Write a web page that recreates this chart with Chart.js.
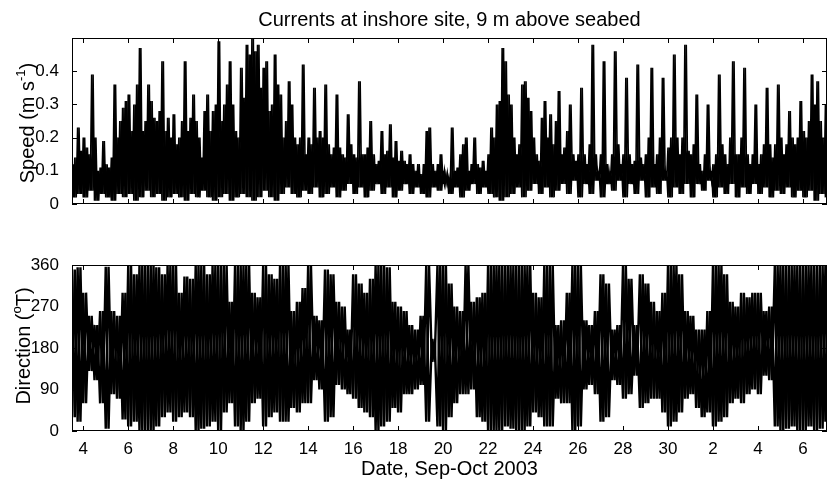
<!DOCTYPE html>
<html>
<head>
<meta charset="utf-8">
<script src="https://cdn.jsdelivr.net/npm/chart.js@4/dist/chart.umd.min.js"></script>
<style>
  body { margin: 0; background: #fff; }
  #topPanel { position: absolute; left: 0; top: 0; width: 829px; height: 225px; }
  #bottomPanel { position: absolute; left: 0; top: 220px; width: 829px; height: 265px; }
</style>
</head>
<body>
<div id="topPanel"><canvas id="speedChart"></canvas></div>
<div id="bottomPanel"><canvas id="dirChart"></canvas></div>
<script>
// days counted from 31 Aug 2003 (so 32 = 2 Oct)
const startDay = 3.5;
const peakStep = 0.125;
const bandStep = 0.25;

const dateTicks = [4, 6, 8, 10, 12, 14, 16, 18, 20, 22, 24, 26, 28, 30, 32, 34, 36];
const dateTickLabels = ["4", "6", "8", "10", "12", "14", "16", "18", "20", "22", "24", "26", "28", "30", "2", "4", "6"];
const speedTicks = [0, 0.1, 0.2, 0.3, 0.4];
const speedTickLabels = ["0", "0.1", "0.2", "0.3", "0.4"];
const dirTicks = [0, 90, 180, 270, 360];
const dirTickLabels = ["0", "90", "180", "270", "360"];

// speed, upper envelope every 3 h
const speedPeak = [
  0.12, 0.14, 0.23, 0.16,
  0.20, 0.17, 0.15, 0.39, 0.20, 0.10, 0.11, 0.19,
  0.12, 0.11, 0.14, 0.36, 0.20, 0.25, 0.29, 0.31,
  0.33, 0.22, 0.30, 0.36, 0.47, 0.22, 0.25, 0.36,
  0.31, 0.26, 0.25, 0.28, 0.43, 0.22, 0.26, 0.20,
  0.27, 0.18, 0.20, 0.25, 0.43, 0.22, 0.26, 0.33,
  0.25, 0.20, 0.14, 0.28, 0.33, 0.22, 0.28, 0.30,
  0.49, 0.25, 0.30, 0.36, 0.43, 0.30, 0.22, 0.20,
  0.41, 0.32, 0.48, 0.45, 0.50, 0.46, 0.48, 0.35,
  0.41, 0.43, 0.28, 0.30, 0.45, 0.36, 0.33, 0.20,
  0.25, 0.37, 0.30, 0.20, 0.18, 0.20, 0.42, 0.15,
  0.20, 0.18, 0.35, 0.20, 0.22, 0.20, 0.36, 0.18,
  0.15, 0.17, 0.33, 0.17, 0.15, 0.14, 0.27, 0.18,
  0.15, 0.14, 0.37, 0.15, 0.15, 0.17, 0.25, 0.15,
  0.12, 0.13, 0.22, 0.15, 0.16, 0.24, 0.14, 0.19,
  0.13, 0.16, 0.13, 0.12, 0.15, 0.12, 0.10, 0.12,
  0.09, 0.12, 0.22, 0.23, 0.12, 0.10, 0.12, 0.15,
  0.10, 0.09, 0.08, 0.23, 0.10, 0.11, 0.15, 0.18,
  0.20, 0.10, 0.12, 0.20, 0.12, 0.11, 0.13, 0.10,
  0.15, 0.23, 0.20, 0.30, 0.31, 0.47, 0.43, 0.33,
  0.30, 0.20, 0.15, 0.18, 0.36, 0.37, 0.32, 0.28,
  0.20, 0.15, 0.13, 0.26, 0.31, 0.20, 0.27, 0.18,
  0.25, 0.34, 0.15, 0.17, 0.22, 0.30, 0.15, 0.13,
  0.15, 0.35, 0.15, 0.12, 0.18, 0.48, 0.15, 0.10,
  0.15, 0.43, 0.12, 0.10, 0.15, 0.46, 0.18, 0.12,
  0.15, 0.38, 0.15, 0.12, 0.13, 0.42, 0.14, 0.12,
  0.15, 0.20, 0.41, 0.12, 0.15, 0.20, 0.38, 0.10,
  0.17, 0.20, 0.45, 0.20, 0.15, 0.20, 0.48, 0.16,
  0.15, 0.18, 0.33, 0.12, 0.10, 0.15, 0.30, 0.10,
  0.12, 0.15, 0.39, 0.18, 0.15, 0.12, 0.20, 0.43,
  0.15, 0.15, 0.20, 0.41, 0.15, 0.12, 0.15, 0.30,
  0.12, 0.15, 0.18, 0.35, 0.18, 0.14, 0.18, 0.36,
  0.20, 0.15, 0.18, 0.28, 0.20, 0.18, 0.20, 0.31,
  0.22, 0.20, 0.25, 0.39, 0.30, 0.37, 0.25, 0.20,
  0.30, 0.39
];

// speed, lower envelope every 6 h
const speedFloor = [
  0.02, 0.03,
  0.02, 0.04, 0.01, 0.03,
  0.02, 0.01, 0.03, 0.02,
  0.03, 0.01, 0.02, 0.04,
  0.02, 0.03, 0.01, 0.02,
  0.03, 0.02, 0.01, 0.03,
  0.02, 0.04, 0.02, 0.01,
  0.02, 0.03, 0.01, 0.02,
  0.03, 0.02, 0.01, 0.02,
  0.04, 0.02, 0.01, 0.03,
  0.05, 0.03, 0.02, 0.04,
  0.03, 0.05, 0.02, 0.03,
  0.05, 0.02, 0.04, 0.06,
  0.03, 0.05, 0.02, 0.04,
  0.06, 0.03, 0.05, 0.02,
  0.04, 0.06, 0.03, 0.05,
  0.03, 0.02, 0.05, 0.04,
  0.06, 0.03, 0.05, 0.02,
  0.04, 0.06, 0.03, 0.05,
  0.03, 0.02, 0.01, 0.02,
  0.03, 0.05, 0.02, 0.04,
  0.06, 0.03, 0.05, 0.02,
  0.04, 0.06, 0.03, 0.07,
  0.02, 0.06, 0.03, 0.07,
  0.02, 0.06, 0.04, 0.07,
  0.02, 0.06, 0.03, 0.07,
  0.02, 0.05, 0.03, 0.07,
  0.02, 0.05, 0.03, 0.06,
  0.02, 0.06, 0.04, 0.07,
  0.02, 0.05, 0.03, 0.06,
  0.02, 0.05, 0.03, 0.06,
  0.03, 0.05, 0.02, 0.04,
  0.03, 0.05, 0.02, 0.04,
  0.02, 0.04, 0.01, 0.03,
  0.02
];

// direction, upper and lower extremes every 6 h
const dirUpper = [
  350, 355,
  300, 250, 230, 260,
  356, 260, 250, 300,
  360, 340, 360, 360,
  360, 355, 340, 360,
  360, 300, 335, 330,
  360, 360, 340, 360,
  360, 360, 280, 360,
  360, 360, 300, 290,
  360, 340, 330, 360,
  360, 260, 280, 310,
  360, 250, 240, 350,
  340, 280, 270, 220,
  340, 320, 300, 330,
  360, 360, 355, 280,
  270, 260, 230, 220,
  250, 360, 200, 360,
  360, 320, 270, 260,
  360, 280, 290, 300,
  360, 360, 360, 360,
  360, 360, 360, 360,
  300, 290, 360, 360,
  230, 240, 300, 360,
  360, 240, 230, 260,
  340, 320, 220, 230,
  360, 330, 230, 340,
  320, 280, 260, 300,
  360, 360, 340, 260,
  250, 220, 220, 260,
  360, 360, 340, 280,
  270, 300, 290, 300,
  300, 260, 270, 360,
  360, 360, 360, 360,
  360, 360, 360, 360,
  360
];
const dirLower = [
  30, 20,
  60, 130, 110, 60,
  5, 80, 70, 25,
  10, 20, 0, 0,
  0, 10, 30, 40,
  20, 30, 40, 30,
  0, 5, 10, 20,
  0, 40, 60, 10,
  0, 20, 60, 70,
  10, 30, 40, 20,
  20, 50, 40, 60,
  60, 110, 90, 20,
  30, 100, 90, 80,
  70, 50, 40, 30,
  0, 10, 20, 50,
  40, 80, 80, 90,
  100, 20, 150, 10,
  0, 30, 60, 80,
  80, 90, 30, 20,
  0, 0, 0, 10,
  5, 0, 0, 10,
  40, 30, 10, 10,
  70, 60, 60, 0,
  10, 90, 100, 80,
  20, 30, 110, 100,
  70, 80, 120, 50,
  60, 70, 70, 40,
  10, 20, 40, 70,
  80, 50, 30, 40,
  10, 20, 30, 60,
  70, 60, 80, 90,
  80, 120, 110, 10,
  0, 5, 10, 0,
  0, 10, 0, 5,
  20
];

// swing between the high and low of each bin; two passes in opposite phase
// fill the trace in like the densely sampled record
function swing(tops, lowOf, step, flipped) {
  const pts = [];
  tops.forEach((v, i) => {
    const t = startDay + i * step;
    const lo = lowOf(i);
    pts.push({ x: t, y: flipped ? lo : v });
    pts.push({ x: t + step / 2, y: flipped ? v : lo });
  });
  return pts;
}

const speedLow = i => speedFloor[Math.floor(i / 2)];
const dirLow = i => dirLower[i];

const fontFamily = '"Liberation Sans", Arial, Helvetica, sans-serif';
Chart.defaults.font.family = fontFamily;
Chart.defaults.color = "#000";

// box round the plot with inward tick marks, like the original figure
const frameBox = {
  id: "frameBox",
  afterDraw(chart) {
    const { ctx, chartArea: a, scales } = chart;
    const len = 5;
    ctx.save();
    ctx.strokeStyle = "#000";
    ctx.lineWidth = 1;
    ctx.beginPath();
    scales.x.ticks.forEach(t => {
      const px = Math.round(scales.x.getPixelForValue(t.value)) + 0.5;
      ctx.moveTo(px, a.bottom);
      ctx.lineTo(px, a.bottom - len);
      ctx.moveTo(px, a.top);
      ctx.lineTo(px, a.top + len);
    });
    scales.y.ticks.forEach(t => {
      const py = Math.round(scales.y.getPixelForValue(t.value)) + 0.5;
      ctx.moveTo(a.left, py);
      ctx.lineTo(a.left + len, py);
      ctx.moveTo(a.right, py);
      ctx.lineTo(a.right - len, py);
    });
    ctx.stroke();
    ctx.strokeRect(Math.round(a.left) + 0.5, Math.round(a.top) + 0.5,
      Math.round(a.right - a.left) - 1, Math.round(a.bottom - a.top) - 1);
    ctx.restore();
  }
};

// rotated y label with a superscript part
const yTitle = {
  id: "yTitle",
  afterDraw(chart, args, opts) {
    const { ctx } = chart;
    const size = 20;
    const supSize = 13;
    ctx.save();
    ctx.translate(opts.x, opts.y);
    ctx.rotate(-Math.PI / 2);
    ctx.fillStyle = "#000";
    ctx.textBaseline = "middle";
    ctx.textAlign = "left";
    let total = 0;
    opts.parts.forEach(([txt, sup]) => {
      ctx.font = (sup ? supSize : size) + "px " + fontFamily;
      total += ctx.measureText(txt).width;
    });
    let pos = -total / 2;
    opts.parts.forEach(([txt, sup]) => {
      ctx.font = (sup ? supSize : size) + "px " + fontFamily;
      ctx.fillText(txt, pos, sup ? -7 : 0);
      pos += ctx.measureText(txt).width;
    });
    ctx.restore();
  }
};

const xScale = (showLabels) => ({
  type: "linear",
  min: 3.5,
  max: 37.07,
  grid: { display: false },
  border: { display: false },
  afterBuildTicks: s => { s.ticks = dateTicks.map(v => ({ value: v })); },
  afterFit: s => { s.height = showLabels ? 54 : 21; },
  ticks: {
    display: showLabels,
    padding: 0,
    font: { size: 17 },
    callback: (v, i) => dateTickLabels[i]
  },
  title: {
    display: showLabels,
    text: "Date, Sep-Oct 2003",
    font: { size: 20 },
    padding: { top: 0, bottom: 4 }
  }
});

const traceStyle = (width) => ({
  borderColor: "#000",
  borderWidth: width,
  borderJoinStyle: "miter",
  fill: false,
  pointRadius: 0,
  tension: 0
});

new Chart(document.getElementById("speedChart"), {
  type: "line",
  data: {
    datasets: [
      { label: "speed", data: swing(speedPeak, speedLow, peakStep, false), ...traceStyle(1.6) },
      { label: "speed b", data: swing(speedPeak, speedLow, peakStep, true), ...traceStyle(1.6) }
    ]
  },
  options: {
    responsive: true,
    maintainAspectRatio: false,
    animation: false,
    layout: { padding: { left: 0, right: 2, top: 0, bottom: 0 } },
    plugins: {
      legend: { display: false },
      tooltip: { enabled: false },
      title: {
        display: true,
        fullSize: false,
        text: "Currents at inshore site, 9 m above seabed",
        font: { size: 20, weight: "normal" },
        padding: { top: 8, bottom: 6 }
      },
      yTitle: { x: 28, y: 123, parts: [["Speed (m s", false], ["-1", true], [")", false]] }
    },
    scales: {
      x: xScale(false),
      y: {
        min: 0,
        max: 0.5,
        grid: { display: false },
        border: { display: false },
        afterBuildTicks: s => { s.ticks = speedTicks.map(v => ({ value: v })); },
        afterFit: s => { s.width = 72; },
        ticks: { padding: 5, font: { size: 17 }, callback: (v, i) => speedTickLabels[i] }
      }
    }
  },
  plugins: [frameBox, yTitle]
});

new Chart(document.getElementById("dirChart"), {
  type: "line",
  data: {
    datasets: [
      { label: "direction", data: swing(dirUpper, dirLow, bandStep, false), ...traceStyle(2.4) },
      { label: "direction b", data: swing(dirUpper, dirLow, bandStep, true), ...traceStyle(2.4) }
    ]
  },
  options: {
    responsive: true,
    maintainAspectRatio: false,
    animation: false,
    layout: { padding: { left: 0, right: 2, top: 45, bottom: 0 } },
    plugins: {
      legend: { display: false },
      tooltip: { enabled: false },
      yTitle: { x: 24, y: 126, parts: [["Direction (", false], ["o", true], ["T)", false]] }
    },
    scales: {
      x: xScale(true),
      y: {
        min: 0,
        max: 360,
        grid: { display: false },
        border: { display: false },
        afterBuildTicks: s => { s.ticks = dirTicks.map(v => ({ value: v })); },
        afterFit: s => { s.width = 72; },
        ticks: { padding: 5, font: { size: 17 }, callback: (v, i) => dirTickLabels[i] }
      }
    }
  },
  plugins: [frameBox, yTitle]
});
</script>
</body>
</html>
